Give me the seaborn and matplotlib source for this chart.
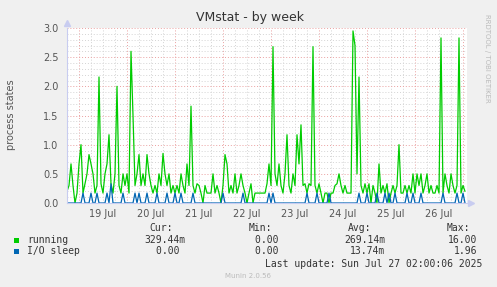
import numpy as np
import pandas as pd
import matplotlib
matplotlib.use("Agg")
import matplotlib.pyplot as plt
import seaborn as sns

# ---- data (hourly samples, hour 0 = 18 Jul 18:00) ----
running = [
    0.2, 0.3, 0.67, 0.3, 0.0, 0.17, 0.67, 1.0, 0.17, 0.33,
    0.5, 0.83, 0.67, 0.5, 0.17, 0.3, 2.16, 0.33, 0.17, 0.5,
    0.67, 1.17, 0.33, 0.17, 0.5, 2.0, 0.3, 0.17, 0.5, 0.3,
    0.5, 0.17, 2.6, 1.5, 0.3, 0.5, 0.83, 0.3, 0.5, 0.3,
    0.83, 0.5, 0.3, 0.17, 0.3, 0.17, 0.5, 0.3, 0.85, 0.5,
    0.3, 0.5, 0.17, 0.3, 0.17, 0.3, 0.17, 0.5, 0.3, 0.17,
    0.67, 0.3, 1.66, 0.3, 0.17, 0.33, 0.3, 0.17, 0.0, 0.3,
    0.17, 0.17, 0.17, 0.5, 0.17, 0.3, 0.17, 0.0, 0.3, 0.83,
    0.67, 0.17, 0.3, 0.17, 0.5, 0.17, 0.3, 0.5, 0.3, 0.17,
    0.0, 0.17, 0.33, 0.0, 0.17, 0.17, 0.17, 0.17, 0.17, 0.17,
    0.33, 0.67, 0.3, 2.68, 0.5, 0.3, 0.67, 0.3, 0.17, 0.5,
    1.17, 0.3, 0.17, 0.5, 0.3, 1.17, 0.67, 1.34, 0.3, 0.33,
    0.17, 0.33, 0.3, 2.68, 0.3, 0.17, 0.33, 0.17, 0.0, 0.17,
    0.17, 0.0, 0.17, 0.17, 0.3, 0.33, 0.5, 0.3, 0.17, 0.3,
    0.17, 0.17, 0.17, 2.95, 2.7, 0.5, 2.16, 0.3, 0.17, 0.33,
    0.17, 0.33, 0.0, 0.3, 0.17, 0.0, 0.67, 0.17, 0.3, 0.17,
    0.33, 0.0, 0.17, 0.3, 0.17, 0.3, 1.0, 0.17, 0.17, 0.3,
    0.17, 0.3, 0.17, 0.5, 0.17, 0.5, 0.3, 0.5, 0.17, 0.3,
    0.5, 0.17, 0.3, 0.17, 0.17, 0.3, 0.17, 2.83, 0.17, 0.5,
    0.3, 0.17, 0.5, 0.3, 0.17, 0.3, 2.83, 0.17, 0.3, 0.2,
]
io_spike_hours = [8, 12, 15, 20, 22, 28, 34, 36, 40, 45, 50, 54, 57, 63, 78, 88,
                  101, 103, 120, 125, 131, 146, 150, 155, 159, 161, 164, 170,
                  173, 177, 188, 195, 198]
io_spike_values = [0.17, 0.17, 0.17, 0.17, 0.33, 0.17, 0.17, 0.17, 0.17, 0.17,
                   0.17, 0.17, 0.17, 0.17, 0.17, 0.17, 0.17, 0.17, 0.17, 0.17,
                   0.17, 0.17, 0.17, 0.17, 0.17, 0.17, 0.17, 0.17, 0.17, 0.17,
                   0.17, 0.17, 0.17]
day_labels = ["19 Jul", "20 Jul", "21 Jul", "22 Jul", "23 Jul", "24 Jul", "25 Jul", "26 Jul"]
legend_names = ["running", "I/O sleep"]
cur_vals = ["329.44m", "0.00"]
min_vals = ["0.00", "0.00"]
avg_vals = ["269.14m", "13.74m"]
max_vals = ["16.00", "1.96"]

hours = np.arange(len(running))
io_sleep = np.zeros(len(running))
for h, v in zip(io_spike_hours, io_spike_values):
    io_sleep[h] = v

df = pd.DataFrame({"hour": hours, "running": running, "io": io_sleep})

sns.set_style("white")
plt.rcParams["font.family"] = ["DejaVu Sans"]

W, H = 497, 287
fig = plt.figure(figsize=(W / 100, H / 100), dpi=100, facecolor="#F0F0F0")
ax = fig.add_axes([67 / W, 1 - 203 / H, 400 / W, 175 / H])
ax.set_facecolor("white")

green = "#00CC00"
blue = "#0066B3"
sns.lineplot(data=df, x="hour", y="running", color=green, lw=0.9, ax=ax)
sns.lineplot(data=df, x="hour", y="io", color=blue, lw=0.9, ax=ax)

ax.set_xlim(0, 200)
ax.set_ylim(0, 3.0)

# grid
ax.set_yticks(np.arange(0, 3.01, 0.5))
ax.set_yticks(np.arange(0, 3.01, 0.1), minor=True)
ax.set_xticks(np.arange(6, 200, 24), minor=False)
ax.set_xticks(np.arange(0, 200, 6), minor=True)
ax.grid(which="minor", color="#D4D4D4", linestyle=(0, (1, 2)), lw=0.7)
ax.grid(which="major", color="#EAA0A0", linestyle=(0, (1, 2)), lw=0.7)
ax.set_axisbelow(True)

ax.set_yticklabels([f"{v:.1f}" for v in np.arange(0, 3.01, 0.5)])
ax.set_xticklabels([])
ax.tick_params(axis="both", which="both", length=0)
ax.tick_params(axis="y", labelsize=7, colors="#555555", pad=6)
ax.set_xlabel("")
ax.set_ylabel("")
# day labels at noon
for i, lab in enumerate(day_labels):
    ax.text(18 + 24 * i, -0.1, lab, ha="center", va="top", fontsize=7, color="#555555")

for s in ["top", "right"]:
    ax.spines[s].set_visible(False)
for s in ["left", "bottom"]:
    ax.spines[s].set_color("#C8CCF0")
    ax.spines[s].set_linewidth(0.8)
ax.plot([0], [1.03], marker="^", color="#C8CCF0", ms=4, transform=ax.transAxes, clip_on=False)
ax.plot([1.01], [0], marker=">", color="#C8CCF0", ms=4, transform=ax.transAxes, clip_on=False)

# title and labels
fig.text(250 / W, 1 - 18 / H, "VMstat - by week", ha="center", va="center", fontsize=9, color="#333333")
fig.text(11 / W, 1 - 115 / H, "process states", rotation=90, ha="center", va="center", fontsize=7, color="#555555")
fig.text(487 / W, 1 - 58 / H, "RRDTOOL / TOBI OETIKER", rotation=270, ha="center", va="center",
         fontsize=5, color="#BBBBBB")

mono = "DejaVu Sans Mono"
fs = 7
tc = "#333333"
def px(x, y):
    return x / W, 1 - y / H

for lab, xs in [("Cur:", 149), ("Min:", 249), ("Avg:", 348), ("Max:", 447)]:
    fig.text(*px(xs, 228), lab, family=mono, fontsize=fs, color=tc, va="center", ha="left")

colors = [green, blue]
rows_y = [240, 251]
for i in range(2):
    y = rows_y[i]
    fig.patches.append(plt.Rectangle(px(14, y + 3), 5 / W, 5 / H, transform=fig.transFigure,
                                     facecolor=colors[i], edgecolor="none"))
    fig.text(*px(27, y), legend_names[i], family=mono, fontsize=fs, color=tc, va="center", ha="left")
    fig.text(*px(185, y), cur_vals[i] if cur_vals[i].endswith("m") else cur_vals[i] + "\u00a0",
             family=mono, fontsize=fs, color=tc, va="center", ha="right")
    fig.text(*px(284, y), min_vals[i] + "\u00a0", family=mono, fontsize=fs, color=tc, va="center", ha="right")
    fig.text(*px(385, y), avg_vals[i] if avg_vals[i].endswith("m") else avg_vals[i] + "\u00a0",
             family=mono, fontsize=fs, color=tc, va="center", ha="right")
    fig.text(*px(477, y), max_vals[i], family=mono, fontsize=fs, color=tc, va="center", ha="right")

fig.text(*px(482, 264), "Last update: Sun Jul 27 02:00:06 2025", family=mono, fontsize=fs,
         color=tc, va="center", ha="right")
fig.text(*px(248, 276), "Munin 2.0.56", fontsize=5, color="#BBBBBB", va="center", ha="center")

fig.savefig("out.png", dpi=100, facecolor=fig.get_facecolor())
